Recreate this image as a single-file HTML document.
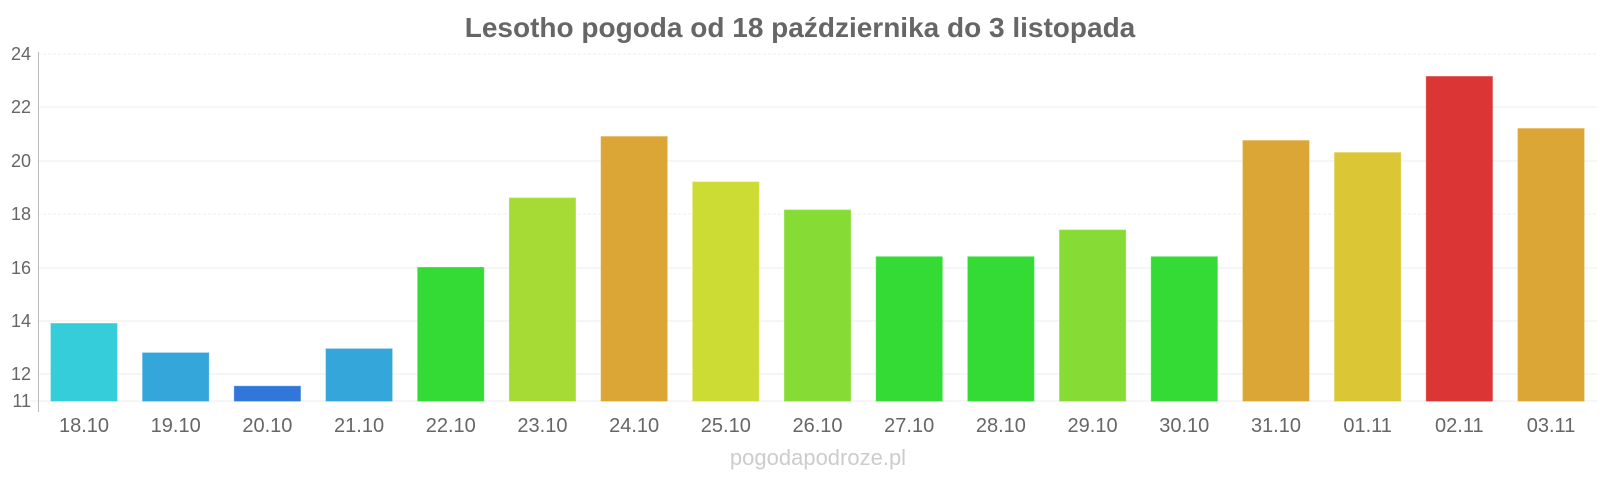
<!DOCTYPE html>
<html><head><meta charset="utf-8"><style>
body{margin:0;background:#fff;width:1600px;height:480px;overflow:hidden;font-family:"Liberation Sans",sans-serif}
</style></head><body>
<svg width="1600" height="480" xmlns="http://www.w3.org/2000/svg" font-family="Liberation Sans, sans-serif">
<text x="800" y="37" text-anchor="middle" font-size="28" font-weight="bold" fill="#666">Lesotho pogoda od 18 października do 3 listopada</text>
<g stroke="#eee" stroke-width="1">
<line x1="38" x2="1597" y1="54" y2="54" stroke-dasharray="3,2"/>
<line x1="38" x2="1597" y1="107" y2="107"/>
<line x1="38" x2="1597" y1="161" y2="161"/>
<line x1="38" x2="1597" y1="214" y2="214" stroke-dasharray="3,2"/>
<line x1="38" x2="1597" y1="268" y2="268"/>
<line x1="38" x2="1597" y1="321" y2="321"/>
<line x1="38" x2="1597" y1="374" y2="374"/>
<line x1="30" x2="1597" y1="401" y2="401"/>
</g>
<line x1="38.5" x2="38.5" y1="52" y2="412" stroke="#bbb"/>
<g font-size="18" fill="#666" text-anchor="end">
<text x="31" y="60">24</text><text x="31" y="113">22</text><text x="31" y="167">20</text><text x="31" y="220">18</text><text x="31" y="274">16</text><text x="31" y="327">14</text><text x="31" y="380">12</text><text x="31" y="407">11</text>
</g>
<g id="bars"></g>
<g id="labels" font-size="20" fill="#666" text-anchor="middle"></g>
<text x="818" y="465" text-anchor="middle" font-size="22" fill="#ccc">pogodapodroze.pl</text>
<script>
var d=[["18.10",13.9,"#35cdd9"],["19.10",12.8,"#35a6d9"],["20.10",11.55,"#3077d9"],["21.10",12.95,"#35a6d9"],["22.10",16.0,"#35db35"],["23.10",18.6,"#a6db35"],["24.10",20.9,"#dba635"],["25.10",19.2,"#cddb35"],["26.10",18.15,"#86db35"],["27.10",16.4,"#35db35"],["28.10",16.4,"#35db35"],["29.10",17.4,"#86db35"],["30.10",16.4,"#35db35"],["31.10",20.75,"#dba635"],["01.11",20.3,"#dbc635"],["02.11",23.15,"#db3535"],["03.11",21.2,"#dba635"]];
var b=document.getElementById("bars"),l=document.getElementById("labels"),ns="http://www.w3.org/2000/svg";
d.forEach(function(e,i){var cx=84+i*91.69,top=401-(e[1]-11)*26.7;
var r=document.createElementNS(ns,"rect");r.setAttribute("x",cx-33);r.setAttribute("y",top);r.setAttribute("width",66);r.setAttribute("height",401-top);r.setAttribute("fill",e[2]);r.setAttribute("stroke",e[2]);r.setAttribute("stroke-opacity","0.7");b.appendChild(r);
var t=document.createElementNS(ns,"text");t.setAttribute("x",cx);t.setAttribute("y",432);t.textContent=e[0];l.appendChild(t);});
</script>
</svg>
</body></html>
